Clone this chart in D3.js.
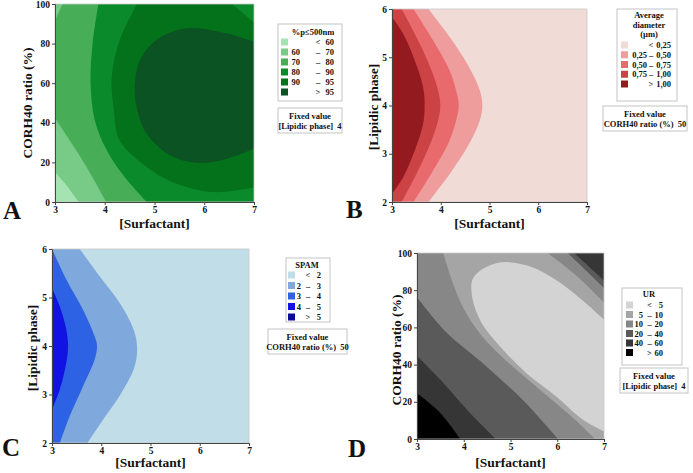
<!DOCTYPE html>
<html><head><meta charset="utf-8">
<script src="https://cdn.jsdelivr.net/npm/d3@7"></script>
<style>
body{margin:0;background:#fff}
text{font-family:"Liberation Serif","Times New Roman",serif;font-weight:bold;fill:#111}
</style>
</head><body><svg id="c" width="693" height="473"></svg>
<script>
// ---------- shared axes ----------
const surfTicks = [3,4,5,6,7];
const ratioTicks = [0,20,40,60,80,100];
const lipidTicks = [2,3,4,5,6];

// ---------- Panel A : %p<=500nm (S vs CORH40 ratio) ----------
const aColors = ["#a6e3b3","#78ca87","#47ad57","#0a8a2b","#04721b","#0b5323"];
const aLegend = [["","<","60"],["60","–","70"],["70","–","80"],["80","–","90"],["90","–","95"],["",">","95"]];
const aBase = 2;
const aLayers = [
 {band:1, pieces:[[[2.95,44],[3.43,26],[3.77,11.8],[4.05,-1]],"bl"]},
 {band:1, pieces:[[[2.95,89],[3.17,101]],"tl"]},
 {band:0, pieces:[[[2.95,16.5],[3.23,8.4],[3.5,-1]],"bl"]},
 {band:3, pieces:[[[3.88,101],[3.756,80],[3.716,60],[3.80,41.3],[4.04,26.1],[4.40,12.6],[4.88,-1]],"br","tr"]},
 {band:4, pieces:[[[6.51,101],[6.8,95],[7.05,89.4]],[[7.05,7.6],[6.18,5],[5.37,10],[4.84,17.7],[4.30,31],[4.18,47],[4.14,63],[4.30,81.8],[4.67,101]]]},
 {band:5, pieces:[[[7.05,80.5],[6.44,85.2],[5.64,87.7],[5.04,81.8],[4.71,71.7],[4.605,59],[4.64,48.1],[4.84,34.6],[5.37,22.8],[5.98,19.7],[6.58,22.8],[7.05,27.8]]]}
];

// ---------- Panel B : average diameter (S vs lipidic phase) ----------
const bColors = ["#f0dbd7","#ee9c9c","#e96a6d","#cc4346","#931b20"];
const bLegend = [["","<","0,25"],["0,25","–","0,50"],["0,50","–","0,75"],["0,75","–","1,00"],["",">","1,00"]];
const bBase = 0;
const bLayers = [
 {band:1, pieces:[[[3.71,6.05],[4.183,5.42],[4.559,4.836],[4.798,4.32],[4.853,4.0],[4.798,3.68],[4.559,3.164],[4.183,2.58],[3.71,1.95]],"bl","tl"]},
 {band:2, pieces:[[[3.41,6.05],[3.84,5.35],[4.18,4.73],[4.33,4.25],[4.37,4.0],[4.33,3.75],[4.18,3.27],[3.84,2.65],[3.41,1.95]],"bl","tl"]},
 {band:3, pieces:[[[3.17,6.05],[3.50,5.42],[3.81,4.73],[3.96,4.25],[3.99,4.0],[3.96,3.75],[3.81,3.27],[3.50,2.58],[3.17,1.95]],"bl","tl"]},
 {band:4, pieces:[[[2.95,5.9],[3.226,5.49],[3.465,4.94],[3.636,4.39],[3.67,4.0],[3.636,3.61],[3.465,3.06],[3.226,2.51],[2.95,2.1]]]}
];

// ---------- Panel C : SPAM (S vs lipidic phase) ----------
const cColors = ["#c0dde8","#7fa8dc","#2d62e4","#1212e2","#0a0a9e"];
const cLegend = [["","<","2"],["2","–","3"],["3","–","4"],["4","–","5"],["",">","5"]];
const cBase = 0;
const cLayers = [
 {band:1, pieces:[[[3.528,6.05],[3.968,5.436],[4.374,4.887],[4.645,4.371],[4.726,4.0],[4.679,3.581],[4.408,3.031],[4.036,2.481],[3.684,1.95]],"bl","tl"]},
 {band:2, pieces:[[[2.98,6.05],[3.29,5.37],[3.63,4.75],[3.866,4.2],[3.914,4.0],[3.866,3.72],[3.63,3.17],[3.359,2.55],[3.142,1.95]],"bl","tl"]},
 {band:3, pieces:[[[2.95,5.3],[3.156,4.82],[3.29,4.34],[3.325,4.0],[3.29,3.65],[3.156,3.1],[2.95,2.58]]]}
];

// ---------- Panel D : UR (S vs CORH40 ratio) ----------
const dColors = ["#d3d3d3","#a5a5a5","#878787","#5a5a5a","#363636","#000000"];
const dLegend = [["","<","5"],["5","–","10"],["10","–","20"],["20","–","40"],["40","–","60"],["",">","60"]];
const dBase = 2;
const dLayers = [
 {band:3, pieces:[[[2.95,78],[3.6,58],[4.49,38.9],[5.3,20],[6.05,-1]],"bl"]},
 {band:3, pieces:[[[6.18,101],[6.68,89],[7.05,80]],"tr"]},
 {band:4, pieces:[[[2.95,46],[3.5,31.8],[4.07,15.7],[4.72,-1]],"bl"]},
 {band:4, pieces:[[[6.32,101],[6.75,91],[7.05,84]],"tr"]},
 {band:5, pieces:[[[2.95,25.5],[3.5,13.9],[3.95,-1]],"bl"]},
 {band:1, pieces:[[[3.55,101],[3.75,85],[4.0,70],[4.4,55],[5.0,40],[5.7,25],[6.4,10],[6.85,-1]],"br",[[7.05,72],[6.4,88],[5.74,101]]]},
 {band:0, pieces:[[[7.05,63],[6.62,72.9],[5.98,85.4],[5.34,93.4],[4.71,94.6],[4.21,87],[4.17,78.2],[4.35,63.9],[4.78,49.6],[5.34,35.4],[5.98,22.9],[6.55,10.4],[7.05,3.5]]]}
];

const svg = d3.select("#c");
let clipId = 0;

function regionPath(pieces, x, y, pad){
  const L = x.range()[0]-pad, R = x.range()[1]+pad, T = y.range()[1]-pad, B = y.range()[0]+pad;
  const corners = {tl:[L,T], tr:[R,T], bl:[L,B], br:[R,B]};
  const line = d3.line().x(d=>x(d[0])).y(d=>y(d[1])).curve(d3.curveCatmullRom.alpha(0.5));
  let s = "";
  pieces.forEach(p=>{
    if (typeof p === "string"){ const c = corners[p]; s += (s?"L":"M")+c[0]+","+c[1]; }
    else { let seg = line(p); if (s) seg = "L"+seg.slice(1); s += seg; }
  });
  return s+"Z";
}

function panel(cfg){
  const g = svg.append("g");
  const x = d3.scaleLinear().domain([3,7]).range([cfg.x0,cfg.x1]);
  const y = d3.scaleLinear().domain(cfg.yDomain).range([cfg.y1,cfg.y0]);
  const id = "clip"+(clipId++);
  svg.append("defs").append("clipPath").attr("id",id).append("rect")
    .attr("x",cfg.x0).attr("y",cfg.y0).attr("width",cfg.x1-cfg.x0).attr("height",cfg.y1-cfg.y0);
  const pg = g.append("g").attr("clip-path","url(#"+id+")");
  pg.append("rect").attr("x",cfg.x0).attr("y",cfg.y0).attr("width",cfg.x1-cfg.x0).attr("height",cfg.y1-cfg.y0)
    .attr("fill",cfg.colors[cfg.base]);
  pg.selectAll("path.band").data(cfg.layers).join("path").attr("class","band")
    .attr("d",d=>regionPath(d.pieces,x,y,25)).attr("fill",d=>cfg.colors[d.band]);
  g.append("rect").attr("x",cfg.x0).attr("y",cfg.y0).attr("width",cfg.x1-cfg.x0).attr("height",cfg.y1-cfg.y0)
    .attr("fill","none").attr("stroke","#c8c8c8").attr("stroke-width",0.8);

  const ax = g.append("g").attr("transform","translate(0,"+cfg.y1+")")
    .call(d3.axisBottom(x).tickValues(surfTicks).tickSize(3).tickPadding(1).tickFormat(d3.format("d")));
  const ay = g.append("g").attr("transform","translate("+cfg.x0+",0)")
    .call(d3.axisLeft(y).tickValues(cfg.yTicks).tickSize(3).tickPadding(2).tickFormat(d3.format("d")));
  [ax,ay].forEach(a=>{
    a.selectAll("text").style("font-family",'"Liberation Serif",serif').style("font-weight","bold").style("font-size","9.5px").attr("fill","#111");
    a.select(".domain").attr("stroke","#444");
    a.selectAll(".tick line").attr("stroke","#444");
  });

  g.append("text").attr("x",(cfg.x0+cfg.x1)/2).attr("y",cfg.xTitleY).attr("text-anchor","middle")
    .style("font-size","13.5px").text("[Surfactant]");
  g.append("text").attr("transform","translate("+cfg.yTitleX+","+cfg.yTitleCY+") rotate(-90)")
    .attr("text-anchor","middle").style("font-size","13.5px").text(cfg.yTitle);
  g.append("text").attr("x",cfg.letter[0]).attr("y",cfg.letter[1]).style("font-size","25px").text(cfg.letterText);

  // legend
  const lg = cfg.lg;
  g.append("rect").attr("x",lg.x).attr("y",lg.y).attr("width",lg.w).attr("height",lg.h)
    .attr("fill","#fff").attr("stroke","#c4c4c4").attr("stroke-width",1);
  cfg.legendTitle.forEach((t,i)=>g.append("text").attr("x",lg.tx).attr("y",lg.ty+i*9.5)
    .attr("text-anchor","middle").style("font-size","8.5px").text(t));
  const rows = g.selectAll("g.row").data(cfg.legend).join("g").attr("class","row")
    .attr("transform",(d,i)=>"translate(0,"+(lg.r0+i*lg.step)+")");
  rows.append("rect").attr("x",lg.sx).attr("y",-3.5).attr("width",7).attr("height",7).attr("fill",(d,i)=>cfg.colors[i]);
  rows.append("text").attr("x",lg.lo).attr("y",3).attr("text-anchor","end").style("font-size","8.5px").text(d=>d[0]);
  rows.append("text").attr("x",lg.mid).attr("y",3).attr("text-anchor","middle").style("font-size","8.5px").text(d=>d[1]);
  rows.append("text").attr("x",lg.hi).attr("y",3).attr("text-anchor","end").style("font-size","8.5px").text(d=>d[2]);

  const fb = cfg.fb;
  g.append("rect").attr("x",fb.x).attr("y",fb.y).attr("width",fb.w).attr("height",fb.h)
    .attr("fill","#fff").attr("stroke","#c4c4c4").attr("stroke-width",1);
  g.append("text").attr("x",fb.x+fb.w/2).attr("y",fb.y+11).attr("text-anchor","middle").style("font-size","8.5px").text("Fixed value");
  g.append("text").attr("x",fb.x+fb.w/2).attr("y",fb.y+21).attr("text-anchor","middle").style("font-size","8.5px")
    .attr("xml:space","preserve").text(cfg.fixedText);
}

panel({x0:55,x1:254,y0:4,y1:202,yDomain:[0,100],yTicks:ratioTicks,colors:aColors,base:aBase,layers:aLayers,
  legend:aLegend,legendTitle:["%p≤500nm"],yTitle:"CORH40 ratio (%)",yTitleX:32,yTitleCY:103,xTitleY:228,
  letter:[3,219],letterText:"A",
  lg:{x:278,y:24,w:64,h:77,tx:313,ty:35,r0:42,step:10,sx:281,lo:300,mid:318,hi:334},
  fb:{x:278,y:108,w:64,h:25},fixedText:"[Lipidic phase]  4"});

panel({x0:392,x1:587,y0:9,y1:202,yDomain:[2,6],yTicks:lipidTicks,colors:bColors,base:bBase,layers:bLayers,
  legend:bLegend,legendTitle:["Average","diameter","(µm)"],yTitle:"[Lipidic phase]",yTitleX:378,yTitleCY:107,xTitleY:228,
  letter:[346,218],letterText:"B",
  lg:{x:617,y:9,w:60,h:92,tx:649,ty:18,r0:45,step:9.75,sx:621,lo:647,mid:651,hi:671},
  fb:{x:603,y:106,w:84,h:25},fixedText:"CORH40 ratio (%)  50"});

panel({x0:52,x1:249,y0:249,y1:443,yDomain:[2,6],yTicks:lipidTicks,colors:cColors,base:cBase,layers:cLayers,
  legend:cLegend,legendTitle:["SPAM"],yTitle:"[Lipidic phase]",yTitleX:37,yTitleCY:348,xTitleY:467,
  letter:[2,456],letterText:"C",
  lg:{x:286,y:258,w:44,h:64,tx:307,ty:268,r0:275,step:10.5,sx:288,lo:301,mid:308,hi:321},
  fb:{x:268,y:329,w:79,h:25},fixedText:"CORH40 ratio (%)  50"});

panel({x0:417,x1:604,y0:253,y1:439,yDomain:[0,100],yTicks:ratioTicks,colors:dColors,base:dBase,layers:dLayers,
  legend:dLegend,legendTitle:["UR"],yTitle:"CORH40 ratio (%)",yTitleX:401,yTitleCY:350,xTitleY:467,
  letter:[348,457],letterText:"D",
  lg:{x:622,y:288,w:60,h:77,tx:649,ty:297,r0:305,step:9.5,sx:626,lo:643,mid:649.5,hi:663},
  fb:{x:620,y:368,w:68,h:25},fixedText:"[Lipidic phase]  4"});
</script></body></html>
